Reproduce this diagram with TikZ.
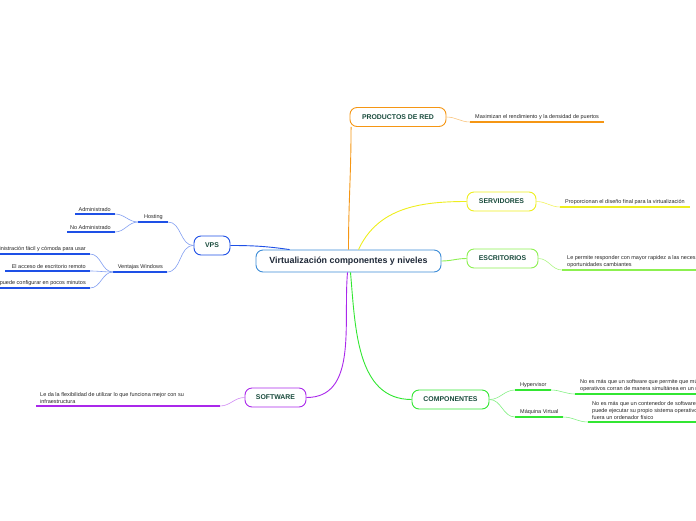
\documentclass[tikz,border=0pt]{standalone}
\usepackage{fontspec}
\setmainfont{Liberation Sans}
\usetikzlibrary{calc}
\definecolor{rootcol}{RGB}{60,140,215}
\definecolor{redcol}{RGB}{245,150,20}
\definecolor{servcol}{RGB}{238,238,30}
\definecolor{esccol}{RGB}{140,240,80}
\definecolor{compcol}{RGB}{50,230,50}
\definecolor{softcol}{RGB}{170,40,235}
\definecolor{vpscol}{RGB}{30,80,230}
\definecolor{titlecol}{RGB}{25,75,60}
\definecolor{rootfont}{RGB}{30,40,55}
\tikzset{
  root/.style   ={rectangle, rounded corners=7pt, draw=rootcol, line width=0.9pt, fill=white,
                  font=\fontsize{8.9}{10}\selectfont\bfseries, text=rootfont,
                  minimum width=185pt, minimum height=22pt, inner sep=0pt},
  topic/.style  ={rectangle, rounded corners=7pt, line width=0.9pt, fill=white,
                  font=\fontsize{6.9}{8}\selectfont\bfseries, text=titlecol,
                  minimum height=19pt, inner sep=0pt},
  leaf/.style   ={font=\fontsize{5.5}{6.8}\selectfont, text=black!85, inner sep=0pt, align=left},
  leafr/.style  ={leaf, align=right},
  branch/.style ={line width=0.9pt},
  twig/.style   ={line width=0.6pt},
  uline/.style  ={line width=1.5pt},
}
\begin{document}
\begin{tikzpicture}[x=1pt,y=-1pt]
    \useasboundingbox (0,0) rectangle (696,520);

    % topics
    \node[root] (root) at (348.5,261) {Virtualización componentes y niveles};
    \node[topic, draw=redcol, minimum width=96pt] (prod) at (398,117) {PRODUCTOS DE RED};
    \node[topic, draw=servcol, minimum width=69pt] (serv) at (501.5,201.5) {SERVIDORES};
    \node[topic, draw=esccol, minimum width=71pt] (esc) at (502.5,258.5) {ESCRITORIOS};
    \node[topic, draw=compcol, minimum width=77pt] (comp) at (450.5,399.5) {COMPONENTES};
    \node[topic, draw=softcol, minimum width=61pt] (soft) at (275.5,397.5) {SOFTWARE};
    \node[topic, draw=vpscol, minimum width=36pt] (vps) at (212,245.5) {VPS};

    % main branches
    \draw[branch, redcol] (root.north) to[out=90,in=-90] ([xshift=1.5pt]prod.south west);
    \draw[branch, servcol] ([xshift=10pt]root.north) to[out=65,in=180] (serv.west);
    \draw[branch, esccol] (root.east) to[out=0,in=180] (esc.west);
    \draw[branch, compcol] ([xshift=2pt]root.south) to[out=-85,in=180] (comp.west);
    \draw[branch, softcol] ([xshift=-1pt]root.south) to[out=-95,in=0] (soft.east);
    \draw[branch, vpscol] ([xshift=34pt]root.north west) to[out=172,in=0] (vps.east);

    % productos de red
    \coordinate (pa) at (470,122); \coordinate (pb) at (604,122);
    \draw[twig, redcol!55] (prod.east) to[out=0,in=180] (pa);
    \draw[uline, redcol] (pa) -- (pb);
    \node[leaf, anchor=south west] (pt) at (475,120) {Maximizan el rendimiento y la densidad de puertos};

    % servidores
    \coordinate (sa) at (560,207); \coordinate (sb) at (690,207);
    \draw[twig, servcol!70] (serv.east) to[out=0,in=180] (sa);
    \draw[uline, servcol] (sa) -- (sb);
    \node[leaf, anchor=south west] (st) at (565,205) {Proporcionan el diseño final para la virtualización};

    % escritorios
    \coordinate (ea) at (562,270); \coordinate (eb) at (700,270);
    \draw[twig, esccol!70] (esc.east) to[out=0,in=180] (ea);
    \draw[uline, esccol] (ea) -- (eb);
    \node[leaf, anchor=south west] (et) at (567,267.5) {Le permite responder con mayor rapidez a las neces\\oportunidades cambiantes};

    % componentes
    \coordinate (ha) at (515,390); \coordinate (hb) at (551,390);
    \coordinate (hc) at (575,394); \coordinate (hd) at (700,394);
    \draw[twig, compcol!60] (comp.east) to[out=0,in=180] (ha);
    \draw[uline, compcol] (ha) -- (hb);
    \node[leaf, anchor=south west] (ht) at (520,388) {Hypervisor};
    \draw[twig, compcol!60] (hb) to[out=0,in=180] (hc);
    \draw[uline, compcol] (hc) -- (hd);
    \node[leaf, anchor=south west] (hx) at (580,391.5) {No es más que un software que permite que mú\\operativos corran de manera simultánea en un m};

    \coordinate (ma) at (515,417); \coordinate (mb) at (563,417);
    \coordinate (mc) at (588,422); \coordinate (md) at (700,422);
    \draw[twig, compcol!60] (comp.east) to[out=0,in=180] (ma);
    \draw[uline, compcol] (ma) -- (mb);
    \node[leaf, anchor=south west] (mt) at (520,415) {Máquina Virtual};
    \draw[twig, compcol!60] (mb) to[out=0,in=180] (mc);
    \draw[uline, compcol] (mc) -- (md);
    \node[leaf, anchor=south west] (mx) at (592,419.5) {No es más que un contenedor de software,\\puede ejecutar su propio sistema operativo\\fuera un ordenador físico};

    % software
    \coordinate (wa) at (220,406); \coordinate (wb) at (36,406);
    \draw[twig, softcol!55] (soft.west) to[out=180,in=0] (wa);
    \draw[uline, softcol] (wa) -- (wb);
    \node[leaf, anchor=south west] (wt) at (40,403.5) {Le da la flexibilidad de utilizar lo que funciona mejor con su\\infraestructura};

    % vps
    \coordinate (hoa) at (168,222); \coordinate (hob) at (138,222);
    \draw[twig, vpscol!55] (vps.west) to[out=180,in=0] (hoa);
    \draw[uline, vpscol] (hoa) -- (hob);
    \node[leafr, anchor=south east] (hot) at (163,220) {Hosting};

    \coordinate (ada) at (115,214); \coordinate (adb) at (75,214);
    \draw[twig, vpscol!55] (hob) to[out=180,in=0] (ada);
    \draw[uline, vpscol] (ada) -- (adb);
    \node[leafr, anchor=south east] (adt) at (111,212) {Administrado};

    \coordinate (naa) at (115,232); \coordinate (nab) at (67,232);
    \draw[twig, vpscol!55] (hob) to[out=180,in=0] (naa);
    \draw[uline, vpscol] (naa) -- (nab);
    \node[leafr, anchor=south east] (nat) at (111,230) {No Administrado};

    \coordinate (vwa) at (167,272); \coordinate (vwb) at (113,272);
    \draw[twig, vpscol!55] (vps.west) to[out=180,in=0] (vwa);
    \draw[uline, vpscol] (vwa) -- (vwb);
    \node[leafr, anchor=south east] (vwt) at (163,270) {Ventajas Windows};

    \coordinate (v1a) at (90,254); \coordinate (v1b) at (-5,254);
    \draw[twig, vpscol!55] (vwb) to[out=180,in=0] (v1a);
    \draw[uline, vpscol] (v1a) -- (v1b);
    \node[leafr, anchor=south east] (v1t) at (86,252) {Administración fácil y cómoda para usar};

    \coordinate (v2a) at (90,271); \coordinate (v2b) at (5,271);
    \draw[twig, vpscol!55] (vwb) to[out=180,in=0] (v2a);
    \draw[uline, vpscol] (v2a) -- (v2b);
    \node[leafr, anchor=south east] (v2t) at (86,269) {El acceso de escritorio remoto};

    \coordinate (v3a) at (90,288); \coordinate (v3b) at (-5,288);
    \draw[twig, vpscol!55] (vwb) to[out=180,in=0] (v3a);
    \draw[uline, vpscol] (v3a) -- (v3b);
    \node[leafr, anchor=south east] (v3t) at (86,286) {Se puede configurar en pocos minutos};
  \end{tikzpicture}
\end{document}
